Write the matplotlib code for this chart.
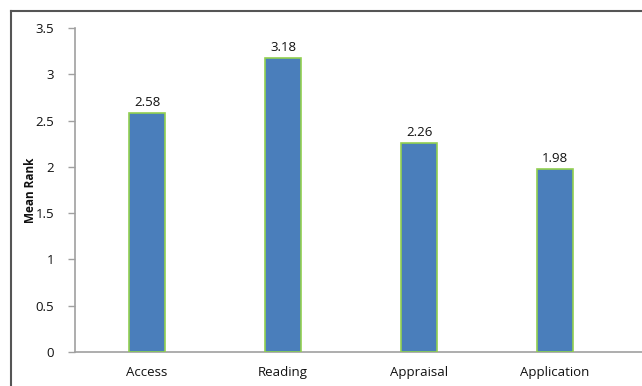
import matplotlib.pyplot as plt
from matplotlib.lines import Line2D

# data ------------------------------------------------------------------
categories = ['Access', 'Reading', 'Appraisal', 'Application']
mean_rank = [2.58, 3.18, 2.26, 1.98]
value_labels = ['2.58', '3.18', '2.26', '1.98']
y_ticks = [0, 0.5, 1, 1.5, 2, 2.5, 3, 3.5]
y_tick_labels = ['0', '0.5', '1', '1.5', '2', '2.5', '3', '3.5']

# figure ----------------------------------------------------------------
W, H = 642, 386
fig = plt.figure(figsize=(W / 100, H / 100), dpi=100)
plt.rcParams['font.family'] = ['Open Sans', 'DejaVu Sans']

# axes placed in pixel coords: y axis at x=75, 0 at y=352, 3.5 at y=28
ax = fig.add_axes([75 / W, (H - 352) / H, (W - 75) / W, (352 - 28) / H])

x = list(range(len(categories)))
ax.bar(x, mean_rank, width=0.265, color='#4a7ebb', edgecolor='#92d050', linewidth=1.2, zorder=3)
for xi, v, lab in zip(x, mean_rank, value_labels):
    ax.text(xi, v + 0.04, lab, ha='center', va='bottom', fontsize=9.5, color='#111111')

ax.set_ylim(0, 3.5)
ax.set_xlim(-0.53, 3.64)
ax.set_yticks(y_ticks)
ax.set_yticklabels(y_tick_labels, fontsize=9.5, color='#111111')
ax.set_xticks(x)
ax.set_xticklabels(categories, fontsize=9.5, color='#111111')
ax.tick_params(axis='x', length=0, pad=10)
ax.tick_params(axis='y', length=5, color='#a0a0a0', width=1, pad=10)

for s in ['top', 'right']:
    ax.spines[s].set_visible(False)
ax.spines['left'].set_color('#a0a0a0')
ax.spines['bottom'].set_color('#a0a0a0')
ax.spines['left'].set_linewidth(1.2)
ax.spines['bottom'].set_linewidth(1.2)

fig.text(30 / W, (H - 190) / H, 'Mean Rank', rotation=90, ha='center', va='center',
         fontsize=8.5, fontweight='bold', color='#111111')

# outer frame (left and top edges visible)
fig.add_artist(Line2D([11 / W, 11 / W], [0, (H - 11) / H], color='#555555', lw=1.5))
fig.add_artist(Line2D([11 / W, 1], [(H - 11) / H, (H - 11) / H], color='#555555', lw=1.5))

plt.savefig('out.png', dpi=100)
